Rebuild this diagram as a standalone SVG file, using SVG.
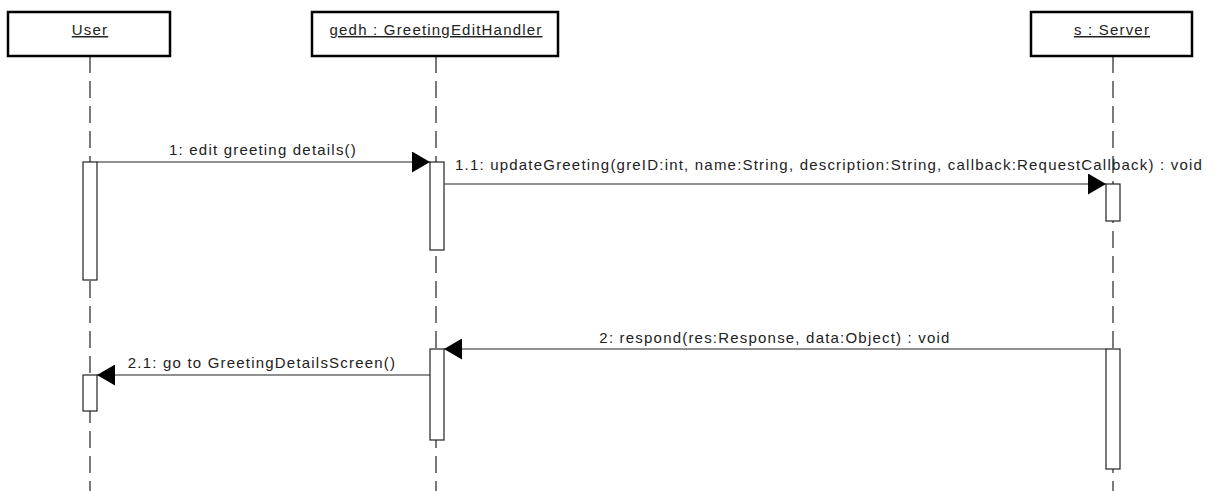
<svg xmlns="http://www.w3.org/2000/svg" width="1214" height="491" viewBox="0 0 1214 491">
  <style>
    .head { fill: #fff; stroke: #000; stroke-width: 2.5; }
    .life { stroke: #222; stroke-width: 1.2; stroke-dasharray: 17 8; fill: none; }
    .act { fill: #fff; stroke: #222; stroke-width: 1.2; }
    .msg { stroke: #222; stroke-width: 1.2; fill: none; }
    .name { font-family: "Liberation Sans", Arial, sans-serif; font-size: 15px; letter-spacing: 1.2px; fill: #222; text-anchor: middle; text-decoration: underline; }
    .lbl { font-family: "Liberation Sans", Arial, sans-serif; font-size: 15px; letter-spacing: 1.2px; fill: #222; }
    .head-arrow { fill: #000; }
  </style>
  <defs>
    <marker id="arrow" viewBox="0 0 18 21" refX="18" refY="10.5" markerWidth="18" markerHeight="21" markerUnits="userSpaceOnUse" orient="auto">
      <path class="head-arrow" d="M0,0 L18,10.5 L0,21 Z"/>
    </marker>
  </defs>
  <rect width="1214" height="491" fill="#fff"/>

  <!-- lifelines -->
  <g id="lifelines">
    <line class="life" x1="90" y1="56" x2="90" y2="491"/>
    <line class="life" x1="436" y1="56" x2="436" y2="491"/>
    <line class="life" x1="1113" y1="56" x2="1113" y2="491"/>
  </g>

  <!-- participants -->
  <g id="user">
    <rect class="head" x="8" y="12" width="162" height="44"/>
    <text class="name" x="90" y="35">User</text>
  </g>
  <g id="gedh">
    <rect class="head" x="312" y="12" width="246" height="44"/>
    <text class="name" x="436" y="35">gedh : GreetingEditHandler</text>
  </g>
  <g id="server">
    <rect class="head" x="1031" y="12" width="161" height="44"/>
    <text class="name" x="1112" y="35">s : Server</text>
  </g>

  <!-- activation bars -->
  <g id="activations">
    <rect class="act" x="83" y="162" width="14" height="118"/>
    <rect class="act" x="430" y="162" width="14" height="88"/>
    <rect class="act" x="1106" y="184" width="14" height="37"/>
    <rect class="act" x="430" y="349" width="14" height="91"/>
    <rect class="act" x="1106" y="349" width="14" height="120"/>
    <rect class="act" x="83" y="375" width="14" height="36"/>
  </g>

  <!-- messages -->
  <g id="connectors">
    <line class="msg" x1="97" y1="162" x2="430" y2="162" marker-end="url(#arrow)"/>
    <line class="msg" x1="444" y1="184" x2="1106" y2="184" marker-end="url(#arrow)"/>
    <line class="msg" x1="1106" y1="349" x2="444" y2="349" marker-end="url(#arrow)"/>
    <line class="msg" x1="430" y1="375" x2="97" y2="375" marker-end="url(#arrow)"/>
  </g>

  <g id="labels">
    <text class="lbl" x="263" y="155" text-anchor="middle">1: edit greeting details()</text>
    <text class="lbl" x="455" y="170">1.1: updateGreeting(greID:int, name:String, description:String, callback:RequestCallback) : void</text>
    <text class="lbl" x="775" y="343" text-anchor="middle">2: respond(res:Response, data:Object) : void</text>
    <text class="lbl" x="262" y="368" text-anchor="middle">2.1: go to GreetingDetailsScreen()</text>
  </g>
</svg>
